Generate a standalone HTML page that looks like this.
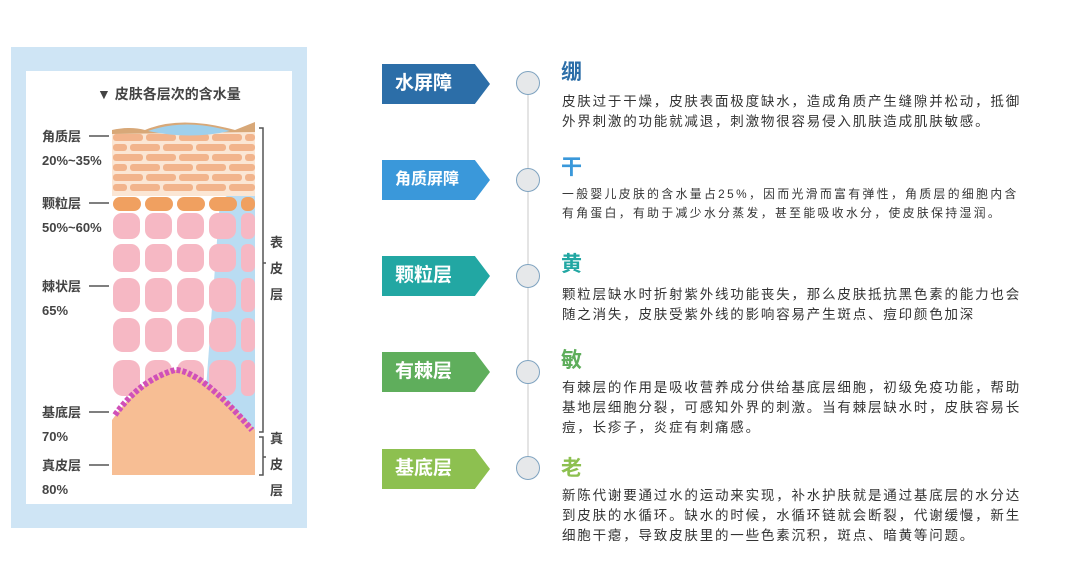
<!DOCTYPE html>
<html><head><meta charset="utf-8"><style>
body{margin:0;width:1080px;height:582px;background:#fff;overflow:hidden;font-family:"Liberation Sans","Noto Sans CJK SC",sans-serif;position:relative}
.t{position:absolute;left:562px;color:#333;font-size:13.5px;line-height:20px;letter-spacing:1.8px;white-space:nowrap}
.h{position:absolute;left:561px;font-size:21px;font-weight:bold}
.tag{position:absolute;left:382px;width:108px;height:40px;color:#fff;font-weight:bold;font-size:19px;line-height:40px;padding-left:13px;box-sizing:border-box;clip-path:polygon(0 0,86% 0,100% 50%,86% 100%,0 100%)}
.c{position:absolute;left:516px;width:22px;height:22px;border-radius:50%;background:#e6e8ea;border:1.5px solid #7fa3c0}
</style></head><body>
<svg width="1080" height="582" style="position:absolute;left:0;top:0">
<rect x="11" y="47" width="296" height="481" fill="#cfe5f5"/>
<rect x="26" y="71" width="266" height="433" fill="#fff"/>
<text x="97" y="99" font-size="14" font-weight="bold" fill="#444" font-family="Liberation Sans,Noto Sans CJK SC,sans-serif">▼ 皮肤各层次的含水量</text>
<path d="M220 200 L255 180 L255 470 L200 470 Z" fill="#b9dcf2"/>
<rect x="112" y="130" width="143" height="66" fill="#fbe6d4"/>
<g fill="#f2b48c">
<rect x="113" y="134" width="30" height="7" rx="3"/><rect x="146" y="134" width="30" height="7" rx="3"/><rect x="179" y="134" width="30" height="7" rx="3"/><rect x="212" y="134" width="30" height="7" rx="3"/><rect x="245" y="134" width="10" height="7" rx="3"/>
<rect x="113" y="144" width="14" height="7" rx="3"/><rect x="130" y="144" width="30" height="7" rx="3"/><rect x="163" y="144" width="30" height="7" rx="3"/><rect x="196" y="144" width="30" height="7" rx="3"/><rect x="229" y="144" width="26" height="7" rx="3"/>
<rect x="113" y="154" width="30" height="7" rx="3"/><rect x="146" y="154" width="30" height="7" rx="3"/><rect x="179" y="154" width="30" height="7" rx="3"/><rect x="212" y="154" width="30" height="7" rx="3"/><rect x="245" y="154" width="10" height="7" rx="3"/>
<rect x="113" y="164" width="14" height="7" rx="3"/><rect x="130" y="164" width="30" height="7" rx="3"/><rect x="163" y="164" width="30" height="7" rx="3"/><rect x="196" y="164" width="30" height="7" rx="3"/><rect x="229" y="164" width="26" height="7" rx="3"/>
<rect x="113" y="174" width="30" height="7" rx="3"/><rect x="146" y="174" width="30" height="7" rx="3"/><rect x="179" y="174" width="30" height="7" rx="3"/><rect x="212" y="174" width="30" height="7" rx="3"/><rect x="245" y="174" width="10" height="7" rx="3"/>
<rect x="113" y="184" width="14" height="7" rx="3"/><rect x="130" y="184" width="30" height="7" rx="3"/><rect x="163" y="184" width="30" height="7" rx="3"/><rect x="196" y="184" width="30" height="7" rx="3"/><rect x="229" y="184" width="26" height="7" rx="3"/>
</g>
<path d="M112 130 Q130 126 145 130 Q180 115 235 130 L255 122 L255 132 L112 134 Z" fill="#d8a878"/>
<path d="M148 131 Q185 118 230 131 Q190 140 148 131Z" fill="#9fd0ec"/>
<g fill="#f0a060">
<rect x="113" y="197" width="28" height="14" rx="7"/><rect x="145" y="197" width="28" height="14" rx="7"/><rect x="177" y="197" width="28" height="14" rx="7"/><rect x="209" y="197" width="28" height="14" rx="7"/><rect x="241" y="197" width="14" height="14" rx="6"/>
</g>
<g fill="#f6b8c4">
<rect x="113" y="213" width="27" height="26" rx="9"/><rect x="145" y="213" width="27" height="26" rx="9"/><rect x="177" y="213" width="27" height="26" rx="9"/><rect x="209" y="213" width="27" height="26" rx="9"/><rect x="241" y="213" width="14" height="26" rx="6"/>
<rect x="113" y="244" width="27" height="28" rx="9"/><rect x="145" y="244" width="27" height="28" rx="9"/><rect x="177" y="244" width="27" height="28" rx="9"/><rect x="209" y="244" width="27" height="28" rx="9"/><rect x="241" y="244" width="14" height="28" rx="6"/>
<rect x="113" y="278" width="27" height="34" rx="10"/><rect x="145" y="278" width="27" height="34" rx="10"/><rect x="177" y="278" width="27" height="34" rx="10"/><rect x="209" y="278" width="27" height="34" rx="10"/><rect x="241" y="278" width="14" height="34" rx="6"/>
<rect x="113" y="318" width="27" height="34" rx="10"/><rect x="145" y="318" width="27" height="34" rx="10"/><rect x="177" y="318" width="27" height="34" rx="10"/><rect x="209" y="318" width="27" height="34" rx="10"/><rect x="241" y="318" width="14" height="34" rx="6"/>
<rect x="113" y="360" width="27" height="36" rx="10"/><rect x="145" y="360" width="27" height="36" rx="10"/><rect x="177" y="360" width="27" height="36" rx="10"/><rect x="209" y="360" width="27" height="36" rx="10"/><rect x="241" y="360" width="14" height="36" rx="6"/>
</g>
<path d="M112 420 Q140 380 175 370 Q200 370 255 430 L255 475 L112 475 Z" fill="#f7be94"/>
<path d="M115 415 Q140 380 175 370 Q200 370 252 430" fill="none" stroke="#d050b8" stroke-width="6" stroke-dasharray="4 2"/>
<g stroke="#555" stroke-width="1.5" fill="none">
<line x1="89" y1="136" x2="109" y2="136"/><line x1="89" y1="203" x2="109" y2="203"/><line x1="89" y1="286" x2="109" y2="286"/><line x1="89" y1="412" x2="109" y2="412"/><line x1="89" y1="465" x2="109" y2="465"/>
<path d="M259 128 H263 V432 H259 M263 263 H266"/>
<path d="M259 437 H263 V475 H259 M263 457 H266"/>
</g>
<g font-size="13" font-weight="bold" fill="#444" font-family="Liberation Sans,Noto Sans CJK SC,sans-serif">
<text x="42" y="141">角质层</text><text x="42" y="165">20%~35%</text>
<text x="42" y="208">颗粒层</text><text x="42" y="232">50%~60%</text>
<text x="42" y="291">棘状层</text><text x="42" y="315">65%</text>
<text x="42" y="417">基底层</text><text x="42" y="441">70%</text>
<text x="42" y="470">真皮层</text><text x="42" y="494">80%</text>
<text x="270" y="247">表</text><text x="270" y="273">皮</text><text x="270" y="299">层</text>
<text x="270" y="443">真</text><text x="270" y="469">皮</text><text x="270" y="495">层</text>
</g>
<line x1="528" y1="83" x2="528" y2="468" stroke="#dcdcdc" stroke-width="1.5"/>
</svg>
<div class="tag" style="top:64px;background:#2c6ea8">水屏障</div>
<div class="tag" style="top:160px;background:#3a98da;font-size:16px">角质屏障</div>
<div class="tag" style="top:256px;background:#22a7a3">颗粒层</div>
<div class="tag" style="top:352px;background:#5fae5c">有棘层</div>
<div class="tag" style="top:449px;background:#8dc050">基底层</div>
<div class="c" style="top:71px"></div><div class="c" style="top:168px"></div><div class="c" style="top:264px"></div><div class="c" style="top:360px"></div><div class="c" style="top:456px"></div>
<div class="h" style="top:56px;color:#2c6ea8">绷</div>
<div class="t" style="top:92px">皮肤过于干燥，皮肤表面极度缺水，造成角质产生缝隙并松动，抵御<br>外界刺激的功能就减退，刺激物很容易侵入肌肤造成肌肤敏感。</div>
<div class="h" style="top:151px;color:#3a98da">干</div>
<div class="t" style="top:185px;font-size:11.8px;line-height:19px;letter-spacing:2.4px">一般婴儿皮肤的含水量占25%，因而光滑而富有弹性，角质层的细胞内含<br>有角蛋白，有助于减少水分蒸发，甚至能吸收水分，使皮肤保持湿润。</div>
<div class="h" style="top:248px;color:#22a7a3">黄</div>
<div class="t" style="top:285px">颗粒层缺水时折射紫外线功能丧失，那么皮肤抵抗黑色素的能力也会<br>随之消失，皮肤受紫外线的影响容易产生斑点、痘印颜色加深</div>
<div class="h" style="top:344px;color:#5fae5c">敏</div>
<div class="t" style="top:378px">有棘层的作用是吸收营养成分供给基底层细胞，初级免疫功能，帮助<br>基地层细胞分裂，可感知外界的刺激。当有棘层缺水时，皮肤容易长<br>痘，长疹子，炎症有刺痛感。</div>
<div class="h" style="top:452px;color:#8dc050">老</div>
<div class="t" style="top:486px">新陈代谢要通过水的运动来实现，补水护肤就是通过基底层的水分达<br>到皮肤的水循环。缺水的时候，水循环链就会断裂，代谢缓慢，新生<br>细胞干瘪，导致皮肤里的一些色素沉积，斑点、暗黄等问题。</div>
</body></html>
